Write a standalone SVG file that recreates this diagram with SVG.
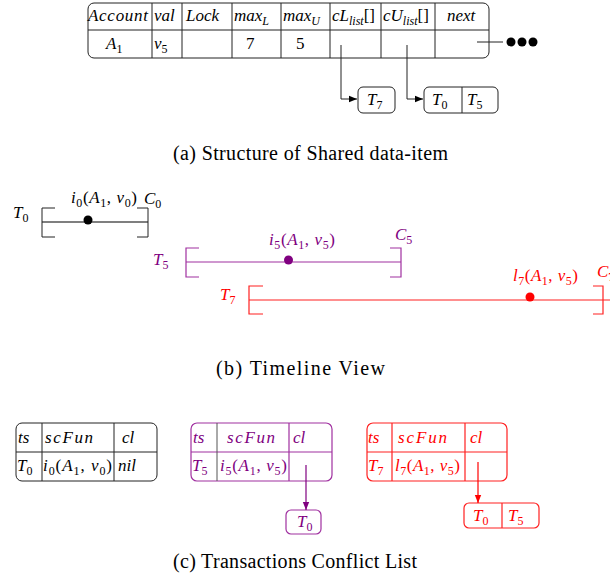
<svg xmlns="http://www.w3.org/2000/svg" width="610" height="581" viewBox="0 0 610 581">
<style>
text{font-family:"Liberation Serif","DejaVu Serif",serif;font-size:17px;fill:#000}
.m{font-style:italic}
.s{font-size:12px}
.cap{font-size:20px}
.ln{fill:none;stroke:#222;stroke-width:1}
.box{fill:#fff;stroke:#222;stroke-width:1}
.pu{fill:#800080}
.rd{fill:#ff0000}
.pul{fill:none;stroke:#a030a0;stroke-width:1.2}
.rdl{fill:none;stroke:#ff2020;stroke-width:1.2}
</style>
<defs>
<marker id="ak" viewBox="0 0 10 10" refX="10" refY="5" markerWidth="8" markerHeight="8" markerUnits="userSpaceOnUse" orient="auto"><path d="M0,1 L10,5 L0,9 Z" fill="#000"/></marker>
<marker id="ap" viewBox="0 0 10 10" refX="10" refY="5" markerWidth="8" markerHeight="8" markerUnits="userSpaceOnUse" orient="auto"><path d="M0,1 L10,5 L0,9 Z" fill="#800080"/></marker>
<marker id="ar" viewBox="0 0 10 10" refX="10" refY="5" markerWidth="8" markerHeight="8" markerUnits="userSpaceOnUse" orient="auto"><path d="M0,1 L10,5 L0,9 Z" fill="#ff0000"/></marker>
</defs>

<!-- (a) Shared data-item -->
<g id="shared-item">
<rect class="box" x="88" y="3" width="401" height="55" rx="6"/>
<path class="ln" d="M88 30H489M152 3V58M182 3V58M232 3V58M281 3V58M330 3V58M381 3V58M435 3V58"/>
<text class="m" x="88" y="21" textLength="60">Account</text>
<text class="m" x="154" y="21">val</text>
<text class="m" x="186" y="21">Lock</text>
<text class="m" x="234" y="21">max<tspan class="s" dy="4">L</tspan></text>
<text class="m" x="283" y="21">max<tspan class="s" dy="4">U</tspan></text>
<text class="m" x="332" y="21">cL<tspan class="s" dy="4">list</tspan><tspan dy="-4" font-style="normal">[]</tspan></text>
<text class="m" x="383" y="21">cU<tspan class="s" dy="4">list</tspan><tspan dy="-4" font-style="normal">[]</tspan></text>
<text class="m" x="447" y="21">next</text>
<text class="m" x="106" y="49">A<tspan class="s" dy="4" font-style="normal">1</tspan></text>
<text class="m" x="154" y="49">v<tspan class="s" dy="4" font-style="normal">5</tspan></text>
<text x="246" y="49">7</text>
<text x="296" y="49">5</text>
</g>
<g id="cl-list-box">
<rect class="box" x="358" y="87" width="37" height="26" rx="5"/>
<text class="m" x="367" y="105">T<tspan class="s" dy="4" font-style="normal">7</tspan></text>
</g>
<g id="cu-list-box">
<rect class="box" x="424" y="87" width="74" height="26" rx="5"/>
<path class="ln" d="M462 87V113"/>
<text class="m" x="432" y="105">T<tspan class="s" dy="4" font-style="normal">0</tspan></text>
<text class="m" x="467" y="105">T<tspan class="s" dy="4" font-style="normal">5</tspan></text>
</g>
<g id="next-dots">
<circle cx="511" cy="42" r="4.5"/>
<circle cx="522" cy="42" r="4.5"/>
<circle cx="533" cy="42" r="4.5"/>
</g>
<text class="cap" x="173" y="160" textLength="275">(a) Structure of Shared data-item</text>

<!-- (b) Timeline -->
<g id="timeline-T0">
<path d="M42 222H148" stroke="#000" stroke-width="1.2" fill="none"/>
<path class="ln" d="M55 208H42V237H55M137 208H148V237H137" stroke="#444"/>
<circle cx="88" cy="220" r="4.5" fill="#000"/>
<text class="m" x="13" y="218">T<tspan class="s" dy="4" font-style="normal">0</tspan></text>
<text class="m" x="71" y="203" textLength="66">i<tspan class="s" dy="4" font-style="normal">0</tspan><tspan dy="-4" font-style="normal">(</tspan>A<tspan class="s" dy="4" font-style="normal">1</tspan><tspan dy="-4" font-style="normal">, </tspan>v<tspan class="s" dy="4" font-style="normal">0</tspan><tspan dy="-4" font-style="normal">)</tspan></text>
<text class="m" x="144" y="204">C<tspan class="s" dy="4" font-style="normal">0</tspan></text>
</g>
<g id="timeline-T5">
<path class="pul" d="M186 262H401M199 248H186V277H199M390 248H401V277H390"/>
<circle cx="288.5" cy="260" r="4.5" class="pu"/>
<text class="m pu" x="153" y="265">T<tspan class="s" dy="4" font-style="normal">5</tspan></text>
<text class="m pu" x="269" y="245" textLength="66">i<tspan class="s" dy="4" font-style="normal">5</tspan><tspan dy="-4" font-style="normal">(</tspan>A<tspan class="s" dy="4" font-style="normal">1</tspan><tspan dy="-4" font-style="normal">, </tspan>v<tspan class="s" dy="4" font-style="normal">5</tspan><tspan dy="-4" font-style="normal">)</tspan></text>
<text class="m pu" x="395" y="240">C<tspan class="s" dy="4" font-style="normal">5</tspan></text>
</g>
<g id="timeline-T7">
<path class="rdl" d="M249 300H610M263 286H249V314H263M593 286H603V314H593"/>
<circle cx="530" cy="297" r="4.5" class="rd"/>
<text class="m rd" x="220" y="300">T<tspan class="s" dy="4" font-style="normal">7</tspan></text>
<text class="m rd" x="513" y="281" textLength="65">l<tspan class="s" dy="4" font-style="normal">7</tspan><tspan dy="-4" font-style="normal">(</tspan>A<tspan class="s" dy="4" font-style="normal">1</tspan><tspan dy="-4" font-style="normal">, </tspan>v<tspan class="s" dy="4" font-style="normal">5</tspan><tspan dy="-4" font-style="normal">)</tspan></text>
<text class="m rd" x="597" y="277">C<tspan class="s" dy="4" font-style="normal">7</tspan></text>
</g>
<text class="cap" x="216" y="375" textLength="169">(b) Timeline View</text>

<!-- (c) Conflict lists -->
<g id="cl-T0">
<rect class="box" x="16" y="423" width="141" height="58" rx="6"/>
<path class="ln" d="M16 452H157M42 423V481M114 423V481"/>
<text class="m" x="18" y="443">ts</text>
<text class="m" x="45" y="443" textLength="48">scFun</text>
<text class="m" x="122" y="443">cl</text>
<text class="m" x="17" y="471">T<tspan class="s" dy="4" font-style="normal">0</tspan></text>
<text class="m" x="43" y="471" textLength="69">i<tspan class="s" dy="4" font-style="normal">0</tspan><tspan dy="-4" font-style="normal">(</tspan>A<tspan class="s" dy="4" font-style="normal">1</tspan><tspan dy="-4" font-style="normal">, </tspan>v<tspan class="s" dy="4" font-style="normal">0</tspan><tspan dy="-4" font-style="normal">)</tspan></text>
<text class="m" x="118" y="471">nil</text>
</g>
<g id="cl-T5">
<rect x="191" y="423" width="141" height="58" rx="6" fill="#fff" stroke="#a030a0" stroke-width="1.2"/>
<path class="pul" d="M191 452H332M289 423V481"/>
<path d="M217 423V481" stroke="#555" stroke-width="1" fill="none"/>
<text class="m pu" x="193" y="443">ts</text>
<text class="m pu" x="227" y="443" textLength="48">scFun</text>
<text class="m pu" x="293" y="443">cl</text>
<text class="m pu" x="192" y="471">T<tspan class="s" dy="4" font-style="normal">5</tspan></text>
<text class="m pu" x="220" y="471" textLength="67">i<tspan class="s" dy="4" font-style="normal">5</tspan><tspan dy="-4" font-style="normal">(</tspan>A<tspan class="s" dy="4" font-style="normal">1</tspan><tspan dy="-4" font-style="normal">, </tspan>v<tspan class="s" dy="4" font-style="normal">5</tspan><tspan dy="-4" font-style="normal">)</tspan></text>
</g>
<g id="cl-T5-box">
<rect x="286" y="510" width="35" height="24" rx="5" fill="#fff" stroke="#a030a0" stroke-width="1.2"/>
<text class="m pu" x="297" y="527">T<tspan class="s" dy="4" font-style="normal">0</tspan></text>
</g>
<g id="cl-T7">
<rect x="367" y="423" width="140" height="58" rx="6" fill="#fff" stroke="#ff2020" stroke-width="1.2"/>
<path class="rdl" d="M367 452H507M392 423V481M465 423V481"/>
<text class="m rd" x="368" y="443">ts</text>
<text class="m rd" x="398" y="443" textLength="49">scFun</text>
<text class="m rd" x="470" y="443">cl</text>
<text class="m rd" x="368" y="471">T<tspan class="s" dy="4" font-style="normal">7</tspan></text>
<text class="m rd" x="395" y="471" textLength="65">l<tspan class="s" dy="4" font-style="normal">7</tspan><tspan dy="-4" font-style="normal">(</tspan>A<tspan class="s" dy="4" font-style="normal">1</tspan><tspan dy="-4" font-style="normal">, </tspan>v<tspan class="s" dy="4" font-style="normal">5</tspan><tspan dy="-4" font-style="normal">)</tspan></text>
</g>
<g id="cl-T7-box">
<rect x="464" y="503" width="75" height="25" rx="5" fill="#fff" stroke="#ff2020" stroke-width="1.2"/>
<path class="rdl" d="M502 503V528"/>
<text class="m rd" x="473" y="521">T<tspan class="s" dy="4" font-style="normal">0</tspan></text>
<text class="m rd" x="508" y="521">T<tspan class="s" dy="4" font-style="normal">5</tspan></text>
</g>
<text class="cap" x="173" y="568" textLength="244">(c) Transactions Conflict List</text>

<g id="connectors">
<path class="ln" d="M341 45V99H357" marker-end="url(#ak)"/>
<path class="ln" d="M407 45V99H423" marker-end="url(#ak)"/>
<path class="ln" d="M477 42H503"/>
<path d="M306 465V510" fill="none" stroke="#800080" stroke-width="1.2" marker-end="url(#ap)"/>
<path d="M478 462V503" fill="none" stroke="#ff0000" stroke-width="1.2" marker-end="url(#ar)"/>
</g>
</svg>
